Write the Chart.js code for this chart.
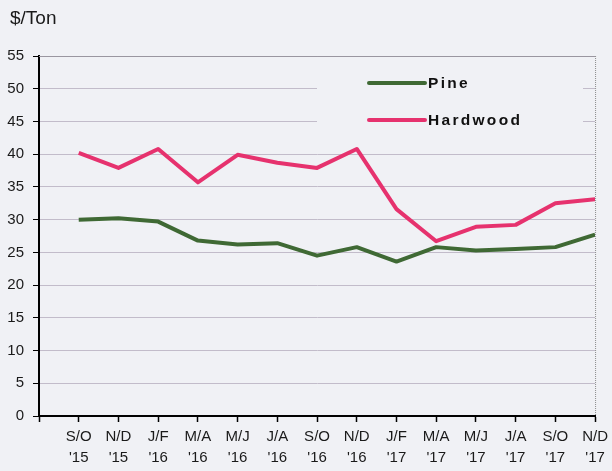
<!DOCTYPE html>
<html>
<head>
<meta charset="utf-8">
<script src="https://cdn.jsdelivr.net/npm/chart.js@4.4.0/dist/chart.umd.min.js"></script>
<style>
  html, body { margin: 0; padding: 0; background: #f0f1f5; }
  #wrap { width: 612px; height: 471px; position: relative; }
</style>
</head>
<body>
<div id="wrap"><canvas id="c" width="612" height="471"></canvas></div>
<script>
// ---- data ----
const periods = ['S/O', 'N/D', 'J/F', 'M/A', 'M/J', 'J/A', 'S/O', 'N/D', 'J/F', 'M/A', 'M/J', 'J/A', 'S/O', 'N/D'];
const years   = ["'15", "'15", "'16", "'16", "'16", "'16", "'16", "'16", "'17", "'17", "'17", "'17", "'17", "'17"];
const pine     = [30.0, 30.2, 29.7, 26.8, 26.2, 26.4, 24.5, 25.8, 23.6, 25.8, 25.3, 25.5, 25.8, 27.7];
const hardwood = [40.2, 37.9, 40.8, 35.7, 39.9, 38.7, 37.9, 40.8, 31.6, 26.7, 28.9, 29.2, 32.5, 33.1];
const yTicks = { min: 0, max: 55, step: 5 };
const titleText = '$/Ton';

const BG = '#f0f1f5';
const FONT = '"Liberation Sans", Arial, sans-serif';
const toPoints = arr => arr.map((v, i) => ({ x: i + 1, y: v }));

const bgPlugin = {
  id: 'bg',
  beforeDraw(chart) {
    const ctx = chart.ctx;
    ctx.save();
    ctx.fillStyle = BG;
    ctx.fillRect(0, 0, chart.width, chart.height);
    ctx.fillStyle = '#1a1a1a';
    ctx.font = '19px ' + FONT;
    ctx.textBaseline = 'alphabetic';
    ctx.textAlign = 'left';
    ctx.fillText(titleText, 10, 24);
    ctx.restore();
  }
};

const framePlugin = {
  id: 'frame',
  afterDatasetsDraw(chart) {
    const { ctx, chartArea: a } = chart;
    ctx.save();
    ctx.strokeStyle = '#8a8a8a';
    ctx.lineWidth = 1;
    ctx.setLineDash([1, 1]);
    ctx.beginPath();
    ctx.moveTo(a.right + 0.5, a.top);
    ctx.lineTo(a.right + 0.5, a.bottom);
    ctx.stroke();
    ctx.setLineDash([]);
    ctx.strokeStyle = '#9a96a0';
    ctx.beginPath();
    ctx.moveTo(a.left, a.top + 0.5);
    ctx.lineTo(a.right, a.top + 0.5);
    ctx.stroke();
    ctx.restore();
  }
};

const legendPlugin = {
  id: 'inLegend',
  beforeDatasetsDraw(chart) {
    const ctx = chart.ctx;
    ctx.save();
    ctx.fillStyle = BG;
    ctx.fillRect(317, 62, 266, 78);
    ctx.restore();
  },
  afterDatasetsDraw(chart) {
    const ctx = chart.ctx;
    ctx.save();
    const ys = [83, 120];
    chart.data.datasets.forEach((ds, i) => {
      const y = ys[i];
      ctx.strokeStyle = ds.borderColor;
      ctx.lineWidth = 4;
      ctx.lineCap = 'round';
      ctx.beginPath();
      ctx.moveTo(369, y);
      ctx.lineTo(425, y);
      ctx.stroke();
      ctx.fillStyle = '#111';
      ctx.font = 'bold 15.5px ' + FONT;
      if ('letterSpacing' in ctx) ctx.letterSpacing = '2.3px';
      ctx.textBaseline = 'middle';
      ctx.textAlign = 'left';
      ctx.fillText(ds.label, 428, y + 1);
    });
    ctx.restore();
  }
};

new Chart(document.getElementById('c'), {
  type: 'line',
  data: {
    datasets: [
      { label: 'Pine', data: toPoints(pine), borderColor: '#3f6934', backgroundColor: '#3f6934',
        borderWidth: 4, pointRadius: 0, tension: 0, borderJoinStyle: 'round' },
      { label: 'Hardwood', data: toPoints(hardwood), borderColor: '#e6326e', backgroundColor: '#e6326e',
        borderWidth: 4, pointRadius: 0, tension: 0, borderJoinStyle: 'round' }
    ]
  },
  options: {
    responsive: false,
    animation: false,
    layout: { padding: { left: 0, right: 15, top: 56, bottom: 0 } },
    plugins: {
      legend: { display: false },
      tooltip: { enabled: false },
      title: { display: false }
    },
    scales: {
      x: {
        type: 'linear', min: 0, max: 14,
        afterFit(s) { s.height = 55; },
        border: { color: '#000', width: 2 },
        grid: { drawOnChartArea: false, drawTicks: true, tickLength: 6, tickColor: '#000', tickWidth: 1.5 },
        ticks: {
          stepSize: 1, autoSkip: false, maxRotation: 0, padding: 4, color: '#1a1a1a',
          font: { family: FONT, size: 15, lineHeight: 1.4 },
          callback: v => (v >= 1 && v <= periods.length) ? [periods[v - 1], years[v - 1]] : ''
        }
      },
      y: {
        min: yTicks.min, max: yTicks.max,
        afterFit(s) { s.width = 39; },
        border: { color: '#000', width: 2 },
        grid: { color: '#c2bcca', lineWidth: 1, drawTicks: true, tickLength: 6, tickColor: '#000' },
        ticks: {
          stepSize: yTicks.step, padding: 9, color: '#1a1a1a',
          font: { family: FONT, size: 15 }
        }
      }
    }
  },
  plugins: [bgPlugin, legendPlugin, framePlugin]
});
</script>
</body>
</html>
